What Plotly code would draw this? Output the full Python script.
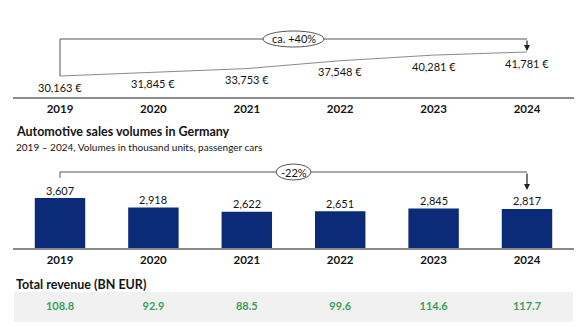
import plotly.graph_objects as go

years = ["2019", "2020", "2021", "2022", "2023", "2024"]
prices = [30163, 31845, 33753, 37548, 40281, 41781]
price_labels = ["30,163 €", "31,845 €", "33,753 €", "37,548 €", "40,281 €", "41,781 €"]
volumes = [3607, 2918, 2622, 2651, 2845, 2817]
volume_labels = ["3,607", "2,918", "2,622", "2,651", "2,845", "2,817"]
revenue = [108.8, 92.9, 88.5, 99.6, 114.6, 117.7]
price_change = "ca. +40%"
volume_change = "-22%"

W, H = 585, 327
FONT = "Lato"
TXT = "#141414"
NAVY = "#0b2b78"
GREEN = "#3a9f5a"
GREY = "#8a8a8a"

def py(p):
    return 1 - p / H

def px(p):
    return p / W

xs = list(range(len(years)))
fig = go.Figure()

# top price line
fig.add_trace(go.Scatter(
    x=xs, y=prices, mode="lines", line=dict(color=GREY, width=1),
    xaxis="x", yaxis="y", hoverinfo="skip", cliponaxis=False))

# bars
fig.add_trace(go.Bar(
    x=xs, y=volumes, marker=dict(color=NAVY, line=dict(width=0)), width=0.54,
    xaxis="x2", yaxis="y2", hoverinfo="skip"))

# revenue row
fig.add_trace(go.Scatter(
    x=xs, y=[0] * len(xs), mode="text", text=[f"{v:.1f}" for v in revenue],
    textfont=dict(family=FONT, size=11, color=GREEN, weight="bold"),
    xaxis="x3", yaxis="y3", hoverinfo="skip", cliponaxis=False))

xdom = [13.3 / W, 573.7 / W]
common_x = dict(range=[-0.5, 5.5], domain=xdom, showgrid=False, zeroline=False,
                tickmode="array", tickvals=xs, ticktext=years, ticks="",
                tickfont=dict(family=FONT, size=11.5, color=TXT, weight="bold"),
                showline=True, linecolor=GREY, linewidth=1.5, fixedrange=True)

k1 = 24 / (prices[-1] - prices[0])
y1_lo = prices[0] - (97 - 76) / k1
y1_hi = y1_lo + (97 - 20) / k1
k2 = 50 / volumes[0]
y2_hi = (248 - 160) / k2

fig.update_layout(
    width=W, height=H, margin=dict(l=0, r=0, t=0, b=0),
    paper_bgcolor="white", plot_bgcolor="rgba(0,0,0,0)",
    showlegend=False, font=dict(family=FONT, color=TXT),
    xaxis=dict(common_x, anchor="y"),
    yaxis=dict(domain=[py(97), py(20)], range=[y1_lo, y1_hi], visible=False, fixedrange=True),
    xaxis2=dict(common_x, anchor="y2"),
    yaxis2=dict(domain=[py(248), py(160)], range=[0, y2_hi], visible=False, fixedrange=True),
    xaxis3=dict(range=[-0.5, 5.5], domain=xdom, visible=False, anchor="y3"),
    yaxis3=dict(domain=[py(322), py(292)], range=[-1, 1], visible=False, fixedrange=True),
)

shapes = []
ann = []
LC = "#555555"

# price labels below line points
for i, (v, lab) in enumerate(zip(prices, price_labels)):
    ann.append(dict(xref="x", yref="y", x=i, y=v, yshift=-11, text=lab, showarrow=False,
                    xanchor="center", yanchor="middle", font=dict(family=FONT, size=11, color=TXT)))

# volume labels above bars
for i, (v, lab) in enumerate(zip(volumes, volume_labels)):
    ann.append(dict(xref="x2", yref="y2", x=i, y=v, yshift=8, text=lab, showarrow=False,
                    xanchor="center", yanchor="middle", font=dict(family=FONT, size=11, color=TXT)))

# price bracket
yb = py(39)
shapes.append(dict(type="line", xref="x", yref="paper", x0=0, x1=0, y0=py(76), y1=yb, line=dict(color=LC, width=1)))
shapes.append(dict(type="line", xref="x", yref="paper", x0=0, x1=5, y0=yb, y1=yb, line=dict(color=LC, width=1)))
ann.append(dict(xref="x", yref="paper", x=5, y=py(51), ax=0, ay=-12, axref="pixel", ayref="pixel",
                text="", showarrow=True, arrowhead=2, arrowsize=1, arrowwidth=1.2, arrowcolor="#222"))
shapes.append(dict(type="circle", xref="paper", yref="paper", x0=px(263), x1=px(324), y0=py(47), y1=py(31),
                   fillcolor="white", line=dict(color=LC, width=1)))
ann.append(dict(xref="paper", yref="paper", x=px(293.5), y=py(39), text=price_change, showarrow=False,
                xanchor="center", yanchor="middle", font=dict(family=FONT, size=11, color=TXT)))

# volume bracket
yv = py(172)
shapes.append(dict(type="line", xref="x2", yref="paper", x0=0, x1=0, y0=py(178), y1=yv, line=dict(color=LC, width=1)))
shapes.append(dict(type="line", xref="x2", yref="paper", x0=0, x1=5, y0=yv, y1=yv, line=dict(color=LC, width=1)))
ann.append(dict(xref="x2", yref="paper", x=5, y=py(190), ax=0, ay=-18, axref="pixel", ayref="pixel",
                text="", showarrow=True, arrowhead=2, arrowsize=1, arrowwidth=1.2, arrowcolor="#222"))
shapes.append(dict(type="circle", xref="paper", yref="paper", x0=px(276), x1=px(311), y0=py(180), y1=py(164),
                   fillcolor="white", line=dict(color=LC, width=1)))
ann.append(dict(xref="paper", yref="paper", x=px(293.5), y=py(172), text=volume_change, showarrow=False,
                xanchor="center", yanchor="middle", font=dict(family=FONT, size=11, color=TXT)))

# titles
ann.append(dict(xref="paper", yref="paper", x=px(14), y=py(131), xanchor="left", yanchor="middle",
                text="<b>Automotive sales volumes in Germany</b>",
                showarrow=False, font=dict(family=FONT, size=12.5, color=TXT)))
ann.append(dict(xref="paper", yref="paper", x=px(14), y=py(147), xanchor="left", yanchor="middle",
                text="2019 – 2024, Volumes in thousand units, passenger cars",
                showarrow=False, font=dict(family=FONT, size=10, color=TXT)))
ann.append(dict(xref="paper", yref="paper", x=px(14), y=py(284), xanchor="left", yanchor="middle",
                text="<b>Total revenue (BN EUR)</b>",
                showarrow=False, font=dict(family=FONT, size=12.5, color=TXT)))

# revenue band
shapes.append(dict(type="rect", xref="paper", yref="paper", x0=px(14), x1=px(573), y0=py(322), y1=py(292),
                   fillcolor="#f1f1f1", line=dict(width=0), layer="below"))

fig.update_layout(shapes=shapes, annotations=ann)
fig.write_html("out.html")
